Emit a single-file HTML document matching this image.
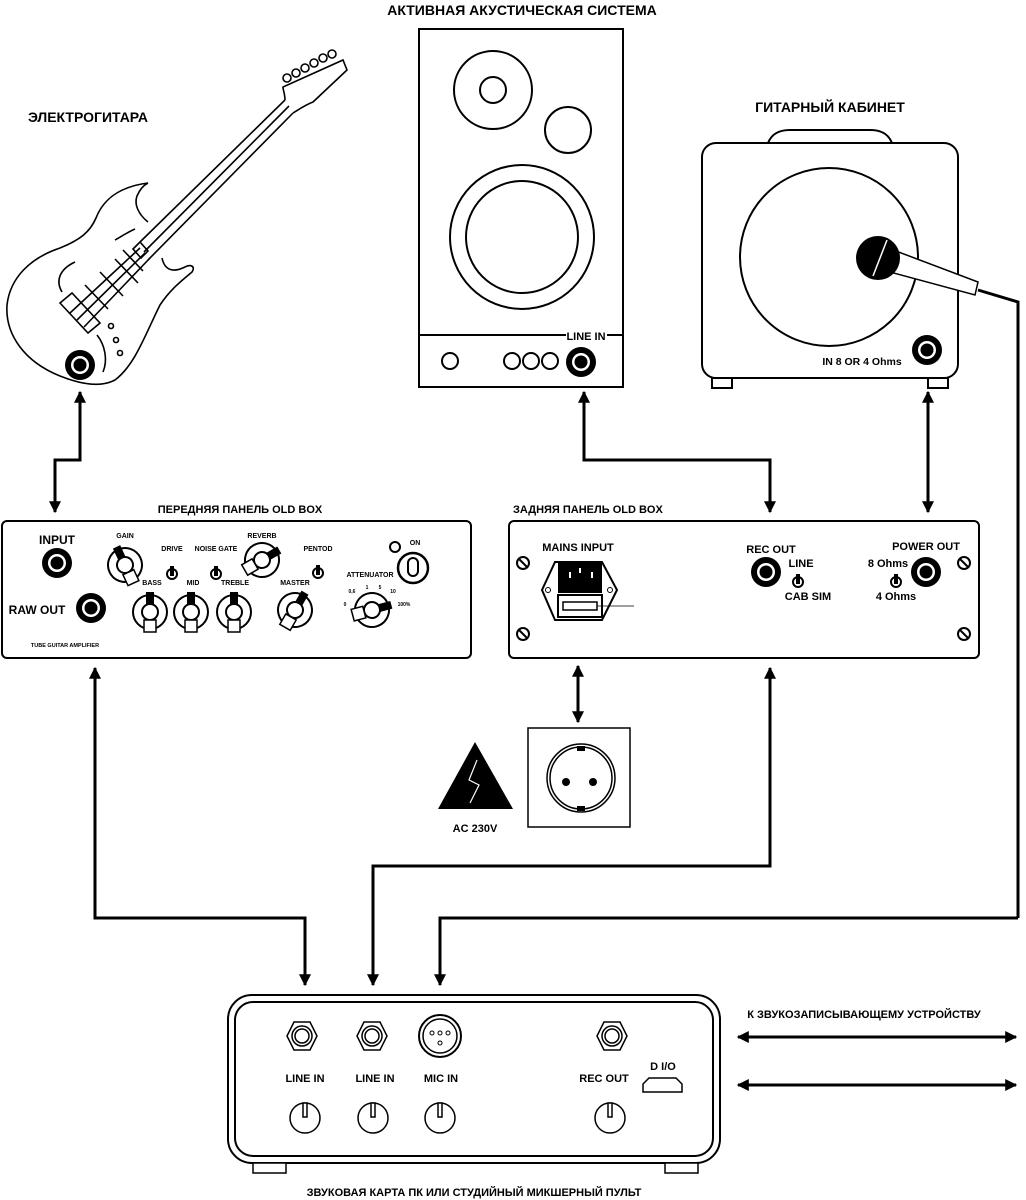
<!DOCTYPE html>
<html><head><meta charset="utf-8"><style>
html,body{margin:0;padding:0;background:#fff;}
svg{display:block;}
text{font-family:"Liberation Sans",Arial,sans-serif;font-weight:bold;fill:#000;}
</style></head><body>
<svg width="1026" height="1200" viewBox="0 0 1026 1200" xmlns="http://www.w3.org/2000/svg">
<defs>
<marker id="ah" viewBox="0 0 10 10" refX="9" refY="5" markerWidth="4" markerHeight="4" orient="auto-start-reverse"><path d="M0,0 L10,5 L0,10 z" fill="#000"/></marker>
<g id="jack"><circle r="15" fill="#000"/><circle r="9" fill="#fff"/><circle r="6.5" fill="#000"/></g>
<g id="scr"><circle r="6" fill="#fff" stroke="#000" stroke-width="2"/><line x1="-4" y1="-4" x2="4" y2="4" stroke="#000" stroke-width="2"/></g>
<g id="tog"><circle r="5" fill="#fff" stroke="#000" stroke-width="2"/><rect x="-2" y="-8" width="4" height="10" fill="#000"/></g>
<g id="knob"><circle r="17" fill="#fff" stroke="#000" stroke-width="2"/><circle r="8" fill="#fff" stroke="#000" stroke-width="2"/><rect x="-4" y="-20" width="8" height="13" fill="#000"/><rect x="-6" y="8" width="12" height="12" fill="#fff" stroke="#000" stroke-width="1.5"/></g>
<g id="hex"><polygon points="-15,0 -8,-14 8,-14 15,0 8,14 -8,14" fill="#fff" stroke="#000" stroke-width="1.5"/><circle r="10" fill="#fff" stroke="#000" stroke-width="1.5"/><circle r="7" fill="#fff" stroke="#000" stroke-width="1.5"/></g>
<g id="sk"><circle r="15" fill="#fff" stroke="#000" stroke-width="1.5"/><rect x="-2" y="-15" width="4" height="14" fill="#fff" stroke="#000" stroke-width="1.5"/></g>
</defs>

<!-- titles -->
<text x="522" y="15" font-size="14" text-anchor="middle">АКТИВНАЯ АКУСТИЧЕСКАЯ СИСТЕМА</text>
<text x="88" y="122" font-size="14" text-anchor="middle">ЭЛЕКТРОГИТАРА</text>
<text x="830" y="112" font-size="14" text-anchor="middle">ГИТАРНЫЙ КАБИНЕТ</text>

<!-- guitar -->
<g fill="none" stroke="#000" stroke-width="1.6">
<path d="M148,183 C125,186 105,195 96,218 C90,232 80,240 60,248 C30,258 10,278 7,305 C5,335 25,362 60,376 C80,384 100,388 115,380 C135,365 145,335 160,305 C170,290 180,282 192,272 C196,266 190,264 185,267 C175,272 165,272 162,258"/>
<path d="M148,222 C138,214 134,204 137,196 C140,189 144,185 148,183"/>
<path d="M135,229 C128,232 122,236 115,240"/>
<path d="M62,292 C56,282 58,270 75,262"/>
<path d="M97,335 C105,345 108,360 103,372"/>
<path d="M140,242 L285,100 M148,260 L293,113 M144,252 L289,106"/>
<path d="M133,249 L140,242 L148,251 L141,258 Z M140,242 L148,251"/>
<path d="M285,100 C285,94 283,90 283,87 L343,60 L347,70 L313,102 C305,105 298,110 293,113"/>
<circle cx="287" cy="78" r="4"/><circle cx="296" cy="73" r="4"/><circle cx="305" cy="68" r="4"/><circle cx="314" cy="63" r="4"/><circle cx="323" cy="58" r="4"/><circle cx="332" cy="54" r="4"/>
<path d="M60,303 L72,293 L100,323 L88,333 Z"/>
<path d="M70,313 L140,248 M77,320 L145,253 M84,327 L150,258"/>
<path d="M85,285 L108,309 M100,272 L123,296 M115,259 L138,283 M123,250 L143,271"/>
<circle cx="111" cy="326" r="2.5"/><circle cx="116" cy="340" r="2.5"/><circle cx="120" cy="353" r="2.5"/>
</g>
<use href="#jack" x="80" y="365"/>

<!-- speaker -->
<g fill="none" stroke="#000" stroke-width="2">
<rect x="419" y="29" width="204" height="358"/>
<line x1="419" y1="335" x2="566" y2="335"/><line x1="607" y1="335" x2="623" y2="335"/>
<circle cx="493" cy="90" r="39"/><circle cx="493" cy="90" r="13"/>
<circle cx="568" cy="130" r="23"/>
<circle cx="522" cy="237" r="72"/><circle cx="522" cy="237" r="56"/>
<circle cx="450" cy="361" r="8"/><circle cx="512" cy="361" r="8"/><circle cx="531" cy="361" r="8"/><circle cx="550" cy="361" r="8"/>
</g>
<text x="586" y="340" font-size="11" text-anchor="middle">LINE IN</text>
<use href="#jack" x="581" y="362"/>

<!-- cabinet -->
<g fill="none" stroke="#000" stroke-width="2">
<path d="M768,143 C772,133 780,130 790,130 L870,130 C880,130 888,133 892,143"/>
<rect x="702" y="143" width="256" height="235" rx="14" fill="#fff"/>
<circle cx="829" cy="257" r="89"/>
<rect x="712" y="378" width="20" height="10"/><rect x="928" y="378" width="20" height="10"/>
<path d="M880,245 L978,282 L975,295 L875,268 Z" fill="#fff" stroke-width="1.5"/>
</g>
<path d="M978,290 L1018,302 L1018,918" fill="none" stroke="#000" stroke-width="3"/>
<circle cx="878" cy="258" r="22" fill="#000"/>
<line x1="887" y1="240" x2="873" y2="276" stroke="#fff" stroke-width="1.5"/>
<use href="#jack" x="927" y="350"/>
<text x="862" y="365" font-size="10.5" text-anchor="middle">IN 8 OR 4 Ohms</text>

<!-- connectors -->
<g fill="none" stroke="#000" stroke-width="3">
<path d="M80,392 L80,460 L55,460 L55,512" marker-start="url(#ah)" marker-end="url(#ah)"/>
<path d="M584,392 L584,460 L770,460 L770,512" marker-start="url(#ah)" marker-end="url(#ah)"/>
<path d="M928,392 L928,512" marker-start="url(#ah)" marker-end="url(#ah)"/>
<path d="M95,668 L95,918 L305,918 L305,985" marker-start="url(#ah)" marker-end="url(#ah)"/>
<path d="M770,668 L770,866 L373,866 L373,985" marker-start="url(#ah)" marker-end="url(#ah)"/>
<path d="M578,666 L578,722" marker-start="url(#ah)" marker-end="url(#ah)"/>
<path d="M1018,918 L440,918 L440,985" marker-end="url(#ah)"/>
<path d="M738,1037 L1016,1037" marker-start="url(#ah)" marker-end="url(#ah)"/>
<path d="M738,1085 L1016,1085" marker-start="url(#ah)" marker-end="url(#ah)"/>
</g>

<!-- front panel -->
<text x="240" y="513" font-size="11" text-anchor="middle">ПЕРЕДНЯЯ ПАНЕЛЬ OLD BOX</text>
<rect x="2" y="521" width="469" height="137" rx="5" fill="#fff" stroke="#000" stroke-width="2"/>
<text x="57" y="544" font-size="12" text-anchor="middle">INPUT</text>
<use href="#jack" x="57" y="563"/>
<text x="37" y="614" font-size="12" text-anchor="middle">RAW OUT</text>
<use href="#jack" x="91" y="608"/>
<text x="65" y="647" font-size="5.5" text-anchor="middle">TUBE GUITAR AMPLIFIER</text>
<g font-size="7" text-anchor="middle">
<text x="125" y="538">GAIN</text><text x="172" y="551">DRIVE</text><text x="216" y="551">NOISE GATE</text>
<text x="262" y="538">REVERB</text><text x="318" y="551">PENTOD</text><text x="415" y="545">ON</text>
<text x="152" y="585">BASS</text><text x="193" y="585">MID</text><text x="235" y="585">TREBLE</text>
<text x="295" y="585">MASTER</text><text x="370" y="577">ATTENUATOR</text>
<text x="352" y="593" font-size="5">0,6</text><text x="367" y="589" font-size="5">1</text><text x="380" y="589" font-size="5">5</text><text x="393" y="593" font-size="5">10</text>
<text x="345" y="606" font-size="5">0</text><text x="404" y="606" font-size="5">100%</text>
</g>
<use href="#knob" x="125" y="565" transform="rotate(-25 125 565)"/>
<use href="#knob" x="262" y="560" transform="rotate(60 262 560)"/>
<use href="#knob" x="150" y="612"/><use href="#knob" x="191" y="612"/><use href="#knob" x="234" y="612"/>
<use href="#knob" x="295" y="610" transform="rotate(30 295 610)"/>
<use href="#knob" x="372" y="610" transform="rotate(75 372 610)"/>
<use href="#tog" x="172" y="574"/><use href="#tog" x="216" y="574"/><use href="#tog" x="318" y="573"/>
<circle cx="395" cy="547" r="5" fill="#fff" stroke="#000" stroke-width="2"/>
<circle cx="413" cy="568" r="15" fill="#fff" stroke="#000" stroke-width="2.5"/>
<rect x="408" y="558" width="10" height="18" rx="5" fill="#fff" stroke="#000" stroke-width="2"/>

<!-- back panel -->
<text x="513" y="513" font-size="11">ЗАДНЯЯ ПАНЕЛЬ OLD BOX</text>
<rect x="509" y="521" width="470" height="137" rx="5" fill="#fff" stroke="#000" stroke-width="2"/>
<use href="#scr" x="523" y="563"/><use href="#scr" x="523" y="634"/><use href="#scr" x="964" y="563"/><use href="#scr" x="964" y="634"/>
<text x="578" y="551" font-size="11" text-anchor="middle">MAINS INPUT</text>
<polygon points="555,562 602,562 617,590 602,620 555,620 542,590" fill="#fff" stroke="#000" stroke-width="2"/>
<rect x="558" y="563" width="44" height="30" fill="#000"/>
<rect x="569" y="572" width="2" height="6" fill="#fff"/><rect x="579" y="568" width="2" height="5" fill="#fff"/><rect x="591" y="572" width="2" height="6" fill="#fff"/>
<rect x="558" y="595" width="44" height="22" fill="#fff" stroke="#000" stroke-width="2"/>
<rect x="563" y="602" width="34" height="8" fill="#fff" stroke="#000" stroke-width="1.5"/>
<line x1="597" y1="606" x2="634" y2="606" stroke="#000" stroke-width="0.8"/>
<circle cx="548" cy="590" r="2.5" fill="none" stroke="#000"/><circle cx="610" cy="590" r="2.5" fill="none" stroke="#000"/>
<text x="771" y="553" font-size="11" text-anchor="middle">REC OUT</text>
<use href="#jack" x="766" y="572"/>
<text x="801" y="567" font-size="11" text-anchor="middle">LINE</text>
<use href="#tog" x="798" y="582"/>
<text x="808" y="600" font-size="11" text-anchor="middle">CAB SIM</text>
<text x="926" y="550" font-size="11" text-anchor="middle">POWER OUT</text>
<text x="888" y="567" font-size="11" text-anchor="middle">8 Ohms</text>
<use href="#jack" x="926" y="572"/>
<use href="#tog" x="896" y="582"/>
<text x="896" y="600" font-size="11" text-anchor="middle">4 Ohms</text>

<!-- power -->
<polygon points="438,809 513,809 475,742" fill="#000"/>
<polyline points="477,760 469,780 479,785 470,803" fill="none" stroke="#fff" stroke-width="1.2"/>
<text x="475" y="832" font-size="11" text-anchor="middle">AC 230V</text>
<rect x="528" y="728" width="102" height="99" fill="#fff" stroke="#000" stroke-width="1.5"/>
<circle cx="581" cy="778" r="34" fill="none" stroke="#000" stroke-width="1.5"/>
<circle cx="581" cy="778" r="31" fill="none" stroke="#000" stroke-width="1.5"/>
<rect x="577" y="746" width="8" height="5" fill="#000"/><rect x="577" y="806" width="8" height="5" fill="#000"/>
<circle cx="566" cy="782" r="4" fill="#000"/><circle cx="593" cy="782" r="4" fill="#000"/>

<!-- sound card -->
<text x="864" y="1018" font-size="11" text-anchor="middle">К ЗВУКОЗАПИСЫВАЮЩЕМУ УСТРОЙСТВУ</text>
<rect x="228" y="995" width="492" height="168" rx="24" fill="#fff" stroke="#000" stroke-width="2"/>
<rect x="235" y="1002" width="478" height="154" rx="18" fill="none" stroke="#000" stroke-width="2"/>
<rect x="253" y="1163" width="33" height="10" fill="#fff" stroke="#000" stroke-width="1.5"/>
<rect x="665" y="1163" width="33" height="10" fill="#fff" stroke="#000" stroke-width="1.5"/>
<use href="#hex" x="302" y="1036"/><use href="#hex" x="372" y="1036"/><use href="#hex" x="612" y="1036"/>
<circle cx="440" cy="1036" r="21" fill="#fff" stroke="#000" stroke-width="2"/>
<circle cx="440" cy="1036" r="17" fill="none" stroke="#000" stroke-width="1.5"/>
<circle cx="432" cy="1033" r="2" fill="none" stroke="#000"/><circle cx="440" cy="1033" r="2" fill="none" stroke="#000"/><circle cx="448" cy="1033" r="2" fill="none" stroke="#000"/><circle cx="440" cy="1043" r="2" fill="none" stroke="#000"/>
<g font-size="11" text-anchor="middle">
<text x="305" y="1082">LINE IN</text><text x="375" y="1082">LINE IN</text><text x="441" y="1082">MIC IN</text>
<text x="604" y="1082">REC OUT</text><text x="663" y="1070">D I/O</text>
</g>
<polygon points="643,1092 643,1084 649,1078 676,1078 682,1084 682,1092" fill="#fff" stroke="#000" stroke-width="1.5"/>
<use href="#sk" x="305" y="1118"/><use href="#sk" x="373" y="1118"/><use href="#sk" x="440" y="1118"/><use href="#sk" x="610" y="1118"/>
<text x="474" y="1196" font-size="11" text-anchor="middle">ЗВУКОВАЯ КАРТА ПК ИЛИ СТУДИЙНЫЙ МИКШЕРНЫЙ ПУЛЬТ</text>
</svg>
</body></html>
